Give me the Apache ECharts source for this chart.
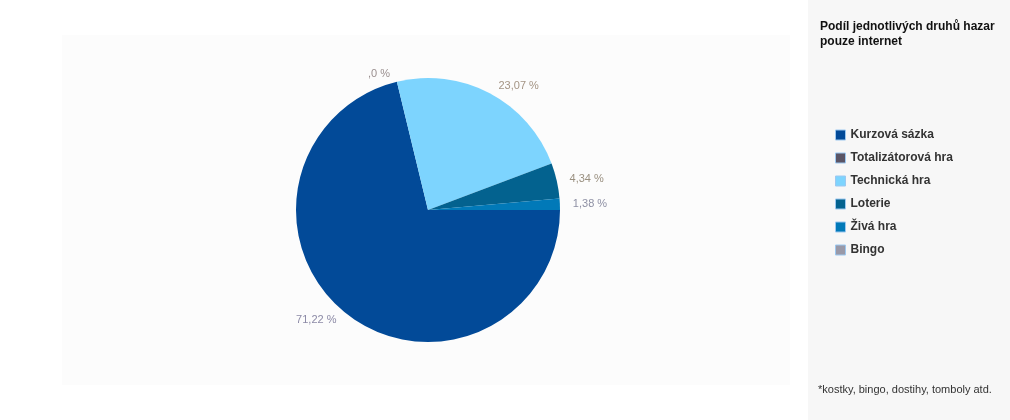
<!DOCTYPE html>
<html><head><meta charset="utf-8">
<script src="https://cdn.jsdelivr.net/npm/echarts@6/dist/echarts.min.js"></script>
<style>html,body{margin:0;padding:0;background:#fff}#c{width:1010px;height:420px}</style>
</head><body><div id="c"></div>
<script>
const categories = ['Kurzová sázka','Totalizátorová hra','Technická hra','Loterie','Živá hra','Bingo'];
const values = [71.22, 0, 23.07, 4.34, 1.38, 0];
const colors = ['#024a98','#5a5566','#7dd4fe','#03628f','#0179b8','#9999a8'];
const labelColors = ['#8c8aa6','#9a8f8f','#a49484','#9a9080','#8e90a4','#9a92a0'];
const chart = echarts.init(document.getElementById('c'));
chart.setOption({
  animation:false,
  textStyle:{fontFamily:'Liberation Sans, Arial, sans-serif'},
  graphic:[
    {type:'rect',shape:{x:62,y:35,width:728,height:350},style:{fill:'#fcfcfc'},z:-10},
    {type:'rect',shape:{x:808,y:0,width:202,height:420},style:{fill:'#f7f7f7'},z:-10},
    {type:'text',left:820,top:19,style:{text:'Podíl jednotlivých druhů hazar\npouze internet',font:'bold 12px Liberation Sans, Arial',fill:'#111',lineHeight:15}},
    {type:'text',left:818,top:384,style:{text:'*kostky, bingo, dostihy, tomboly atd.',font:'11px Liberation Sans, Arial',fill:'#333'}}
  ],
  legend:{orient:'vertical',left:830,top:124,itemWidth:10,itemHeight:10,itemGap:11,
    icon:'rect',data:categories,
    itemStyle:{borderColor:'#9cc8f0',borderWidth:1},
    textStyle:{fontWeight:'bold',fontSize:12,color:'#333'}},
  series:[{type:'pie',center:[428,210],radius:132,startAngle:0,clockwise:true,
    data:categories.map((n,i)=>({name:n,value:values[i],itemStyle:{color:colors[i]},label:{color:labelColors[i]}})),
    avoidLabelOverlap:false,minShowLabelAngle:0,
    label:{show:true,position:'outside',fontSize:11,
      formatter:p=>p.value===0?',0 %':p.value.toFixed(2).replace('.',',')+' %'},
    labelLine:{show:false,length:8,length2:0},
    emphasis:{disabled:true}
  }]
});
</script></body></html>
